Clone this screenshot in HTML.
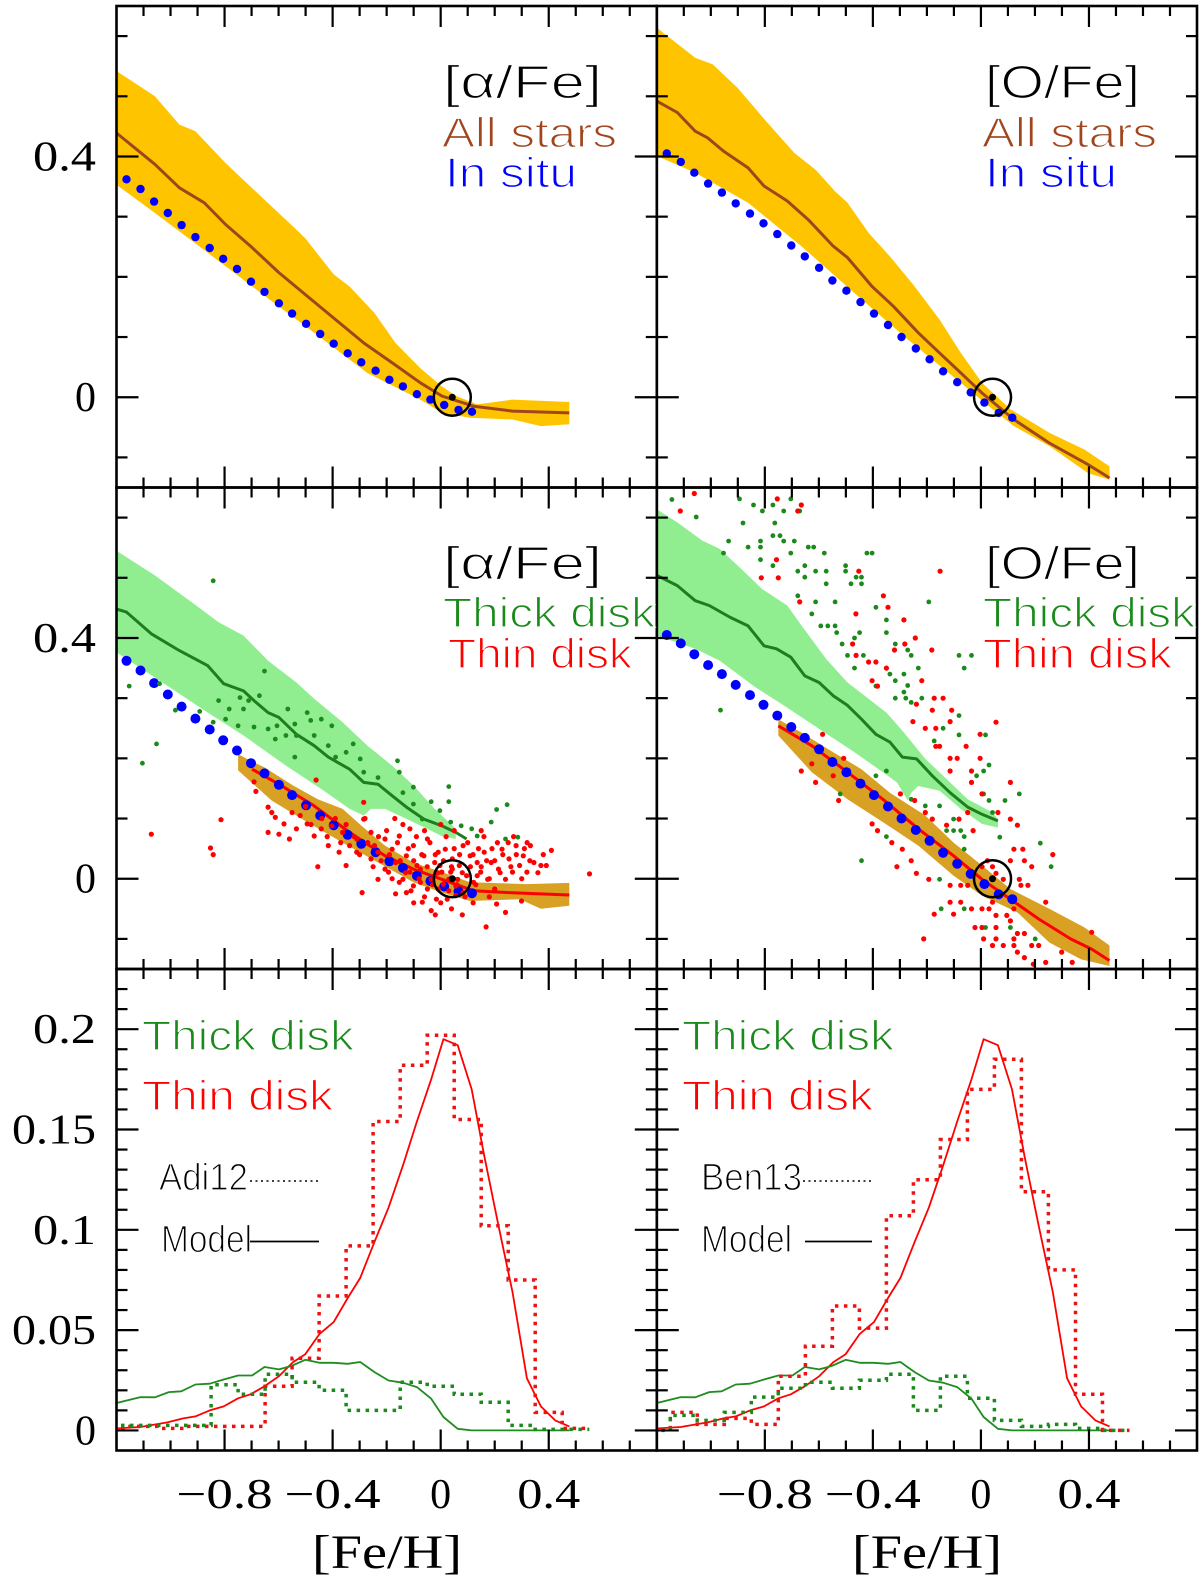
<!DOCTYPE html>
<html><head><meta charset="utf-8"><style>
html,body{margin:0;padding:0;background:#fff;}
svg{display:block;}
#labels > text:not([font-family]){stroke:#fff;stroke-width:1.3px;}
</style></head><body>
<svg id="fig" xmlns="http://www.w3.org/2000/svg" width="1200" height="1582" viewBox="0 0 1200 1582">
<defs>
<clipPath id="c00"><rect x="116.5" y="6" width="540.3" height="481.5"/></clipPath>
<clipPath id="c01"><rect x="656.8" y="6" width="540.2" height="481.5"/></clipPath>
<clipPath id="c10"><rect x="116.5" y="487.5" width="540.3" height="481.5"/></clipPath>
<clipPath id="c11"><rect x="656.8" y="487.5" width="540.2" height="481.5"/></clipPath>
<clipPath id="c20"><rect x="116.5" y="969" width="540.3" height="481.5"/></clipPath>
<clipPath id="c21"><rect x="656.8" y="969" width="540.2" height="481.5"/></clipPath>
</defs>
<g id="marks"></g>
<g id="axes"></g>
<g id="labels" font-family="'Liberation Sans', sans-serif">
<text x="443" y="98" font-size="46" textLength="159" lengthAdjust="spacingAndGlyphs" fill="#000">[α/Fe]</text>
<text x="442" y="147" font-size="42" textLength="175" lengthAdjust="spacingAndGlyphs" fill="#a0461e">All stars</text>
<text x="445" y="187" font-size="42" textLength="132" lengthAdjust="spacingAndGlyphs" fill="#0000ff">In situ</text>
<text x="985" y="98" font-size="46" textLength="155" lengthAdjust="spacingAndGlyphs" fill="#000">[O/Fe]</text>
<text x="982" y="147" font-size="42" textLength="175" lengthAdjust="spacingAndGlyphs" fill="#a0461e">All stars</text>
<text x="985" y="187" font-size="42" textLength="132" lengthAdjust="spacingAndGlyphs" fill="#0000ff">In situ</text>
<text x="443" y="579" font-size="46" textLength="159" lengthAdjust="spacingAndGlyphs" fill="#000">[α/Fe]</text>
<text x="443" y="627" font-size="42" textLength="212" lengthAdjust="spacingAndGlyphs" fill="#1a8a1a">Thick disk</text>
<text x="448" y="668" font-size="42" textLength="184" lengthAdjust="spacingAndGlyphs" fill="#ff0000">Thin disk</text>
<text x="985" y="579" font-size="46" textLength="155" lengthAdjust="spacingAndGlyphs" fill="#000">[O/Fe]</text>
<text x="983" y="627" font-size="42" textLength="212" lengthAdjust="spacingAndGlyphs" fill="#1a8a1a">Thick disk</text>
<text x="983" y="668" font-size="42" textLength="189" lengthAdjust="spacingAndGlyphs" fill="#ff0000">Thin disk</text>
<text x="142" y="1050" font-size="42" textLength="212" lengthAdjust="spacingAndGlyphs" fill="#1a8a1a">Thick disk</text>
<text x="142" y="1110" font-size="42" textLength="191" lengthAdjust="spacingAndGlyphs" fill="#ff0000">Thin disk</text>
<text x="159" y="1190" font-size="38" textLength="89" lengthAdjust="spacingAndGlyphs" fill="#000">Adi12</text>
<line x1="250" y1="1181" x2="319" y2="1181" stroke="#000" stroke-width="1.6" stroke-dasharray="2 3.5"/>
<text x="161" y="1252" font-size="38" textLength="91" lengthAdjust="spacingAndGlyphs" fill="#000">Model</text>
<line x1="250" y1="1241.5" x2="319" y2="1241.5" stroke="#000" stroke-width="1.8"/>
<text x="682" y="1050" font-size="42" textLength="212" lengthAdjust="spacingAndGlyphs" fill="#1a8a1a">Thick disk</text>
<text x="682" y="1110" font-size="42" textLength="191" lengthAdjust="spacingAndGlyphs" fill="#ff0000">Thin disk</text>
<text x="701" y="1190" font-size="38" textLength="101" lengthAdjust="spacingAndGlyphs" fill="#000">Ben13</text>
<line x1="803" y1="1181" x2="872" y2="1181" stroke="#000" stroke-width="1.6" stroke-dasharray="2 3.5"/>
<text x="701" y="1252" font-size="38" textLength="91" lengthAdjust="spacingAndGlyphs" fill="#000">Model</text>
<line x1="805" y1="1241.5" x2="872" y2="1241.5" stroke="#000" stroke-width="1.8"/>
<text x="387" y="1568" font-size="48" text-anchor="middle" font-family="'Liberation Serif', serif" textLength="150" lengthAdjust="spacingAndGlyphs">[Fe/H]</text>
<text x="927" y="1568" font-size="48" text-anchor="middle" font-family="'Liberation Serif', serif" textLength="150" lengthAdjust="spacingAndGlyphs">[Fe/H]</text>
</g>
</svg>
<script>
// ---------- data: row 1 ([alpha/Fe], [O/Fe]; all stars vs in situ) ----------
const alphaBandUpX=[-1.2,-1.058,-0.967,-0.908,-0.796,-0.652,-0.540,-0.501,-0.396,-0.337,-0.245,-0.167,-0.075,0.004,0.057,0.135,0.266,0.476];
const alphaBandUpY=[0.542,0.500,0.453,0.442,0.389,0.328,0.281,0.264,0.204,0.184,0.140,0.090,0.048,0.018,0.002,-0.012,-0.004,-0.008];
const alphaBandLoX=[-1.2,-1.058,-0.862,-0.665,-0.468,-0.271,-0.075,0.004,0.109,0.266,0.371,0.476];
const alphaBandLoY=[0.353,0.306,0.240,0.173,0.107,0.040,-0.004,-0.026,-0.034,-0.037,-0.048,-0.045];
const alphaMeanX=[-1.2,-1.058,-0.967,-0.875,-0.796,-0.704,-0.599,-0.494,-0.389,-0.284,-0.179,-0.075,0.004,0.122,0.266,0.476];
const alphaMeanY=[0.439,0.387,0.348,0.323,0.287,0.251,0.207,0.168,0.129,0.090,0.057,0.024,0.002,-0.015,-0.023,-0.026];
const inSituX=[-1.163,-1.111,-1.061,-1.010,-0.959,-0.908,-0.855,-0.805,-0.754,-0.702,-0.652,-0.599,-0.550,-0.498,-0.446,-0.396,-0.344,-0.294,-0.241,-0.190,-0.140,-0.088,-0.038,0.013,0.066,0.116];
const inSituAlphaY=[0.362,0.346,0.325,0.306,0.286,0.266,0.248,0.230,0.213,0.192,0.175,0.156,0.139,0.122,0.105,0.089,0.073,0.058,0.044,0.029,0.018,0.005,-0.004,-0.013,-0.021,-0.024];
const oBandUpX=[-1.2,-1.058,-0.993,-0.901,-0.796,-0.691,-0.612,-0.540,-0.494,-0.416,-0.337,-0.245,-0.153,-0.075,0.004,0.109,0.253,0.384,0.476];
const oBandUpY=[0.614,0.564,0.553,0.514,0.459,0.406,0.378,0.342,0.323,0.273,0.234,0.184,0.129,0.074,0.024,-0.020,-0.059,-0.087,-0.115];
const oBandLoX=[-1.2,-1.058,-0.862,-0.665,-0.468,-0.271,-0.075,0.030,0.122,0.253,0.397,0.476];
const oBandLoY=[0.401,0.373,0.323,0.251,0.173,0.096,0.024,-0.015,-0.048,-0.081,-0.126,-0.137];
const oMeanX=[-1.2,-1.124,-1.058,-1.012,-0.953,-0.862,-0.803,-0.717,-0.639,-0.547,-0.494,-0.403,-0.324,-0.232,-0.140,-0.088,0.004,0.122,0.253,0.397,0.476];
const oMeanY=[0.492,0.473,0.442,0.431,0.409,0.381,0.351,0.326,0.295,0.251,0.232,0.184,0.151,0.107,0.068,0.046,0.007,-0.037,-0.076,-0.112,-0.134];
const inSituOY=[0.405,0.391,0.373,0.355,0.340,0.322,0.305,0.289,0.271,0.252,0.234,0.215,0.194,0.177,0.158,0.139,0.120,0.100,0.081,0.063,0.043,0.025,0.008,-0.009,-0.026,-0.034];
const sunX=[0.043];
const sunY=[0.0];

// ---------- data: row 2 (thick / thin disk) ----------
const thickAlphaUpX=[-1.2,-1.058,-0.914,-0.822,-0.730,-0.639,-0.534,-0.468,-0.363,-0.271,-0.180,-0.101,-0.022,0.056];
const thickAlphaUpY=[0.545,0.504,0.457,0.426,0.404,0.362,0.326,0.299,0.260,0.221,0.188,0.155,0.116,0.083];
const thickAlphaLoX=[-1.2,-1.124,-0.993,-0.862,-0.730,-0.573,-0.442,-0.337,-0.285,-0.258,-0.206,-0.101,0.004,0.056];
const thickAlphaLoY=[0.376,0.354,0.315,0.276,0.238,0.188,0.149,0.116,0.105,0.116,0.116,0.094,0.071,0.066];
const thickAlphaMeanX=[-1.2,-1.163,-1.071,-0.967,-0.862,-0.803,-0.730,-0.691,-0.639,-0.599,-0.534,-0.468,-0.416,-0.337,-0.285,-0.232,-0.180,-0.127,-0.062,0.004,0.056,0.096];
const thickAlphaMeanY=[0.448,0.443,0.407,0.379,0.354,0.324,0.312,0.296,0.276,0.268,0.240,0.221,0.202,0.182,0.160,0.157,0.138,0.119,0.099,0.088,0.077,0.066];
const thinAlphaUpX=[-0.750,-0.704,-0.652,-0.547,-0.455,-0.363,-0.285,-0.206,-0.101,0.004,0.109,0.319,0.476];
const thinAlphaUpY=[0.207,0.196,0.185,0.155,0.132,0.116,0.085,0.055,0.027,0.011,-0.006,-0.009,-0.007];
const thinAlphaLoX=[-0.750,-0.626,-0.494,-0.363,-0.232,-0.101,0.004,0.109,0.292,0.371,0.476];
const thinAlphaLoY=[0.180,0.130,0.094,0.060,0.027,-0.006,-0.023,-0.037,-0.034,-0.050,-0.045];
const thinAlphaMeanX=[-0.698,-0.599,-0.468,-0.337,-0.206,-0.101,0.004,0.122,0.253,0.476];
const thinAlphaMeanY=[0.182,0.157,0.121,0.077,0.038,0.016,-0.001,-0.020,-0.023,-0.027];
const thickAlphaStarX=[-0.842,-1.153,-1.052,-1.104,-0.982,-1.041,-0.892,-0.842,-0.822,-0.783,-0.796,-0.750,-0.743,-0.730,-0.711,-0.671,-0.652,-0.691,-0.639,-0.612,-0.606,-0.566,-0.573,-0.540,-0.534,-0.540,-0.494,-0.481,-0.468,-0.442,-0.403,-0.416,-0.389,-0.350,-0.324,-0.298,-0.285,-0.232,-0.160,-0.153,-0.140,-0.101,-0.101,-0.035,0.030,0.030,-0.003,0.037,0.076,0.115,0.135,0.187,0.207,0.246,0.240,0.286,-0.068];
const thickAlphaStarY=[0.495,0.320,0.224,0.192,0.280,0.324,0.278,0.260,0.296,0.282,0.265,0.254,0.301,0.282,0.296,0.304,0.345,0.252,0.249,0.232,0.254,0.282,0.238,0.257,0.238,0.202,0.276,0.263,0.238,0.265,0.254,0.221,0.202,0.210,0.224,0.199,0.177,0.168,0.196,0.177,0.143,0.152,0.124,0.128,0.153,0.128,0.113,0.094,0.088,0.083,0.071,0.094,0.115,0.123,0.066,0.069,0.099];
const thinAlphaStarX=[-0.461,-0.691,-0.684,-0.813,-1.071,-0.852,-0.842,-0.639,-0.625,-0.612,-0.580,-0.639,-0.599,-0.560,-0.534,-0.520,-0.494,-0.468,-0.442,-0.416,-0.403,-0.376,-0.350,-0.455,-0.291,-0.285,-0.285,-0.337,-0.311,-0.258,-0.232,-0.206,-0.180,-0.167,-0.153,-0.127,-0.114,-0.101,-0.088,-0.075,-0.062,-0.049,-0.035,-0.022,-0.009,0.004,0.017,0.024,0.030,0.043,0.056,0.069,0.083,0.096,0.109,0.122,0.135,0.148,0.161,0.174,0.187,0.200,0.214,0.227,0.240,0.253,0.266,0.279,0.292,0.306,0.319,0.332,0.345,0.371,0.391,0.410,0.551,0.168,0.240,0.207,0.299,-0.035,-0.068,-0.167,-0.127,-0.232,-0.258,-0.363,-0.311,-0.245,-0.206,-0.140,-0.075,-0.009,0.043,0.083,-0.114,-0.022,0.010,0.037,0.063,-0.049,-0.003,0.056,-0.016,0.135,-0.101,-0.193,-0.153,
-0.32,-0.30,-0.27,-0.25,-0.23,-0.22,-0.20,-0.19,-0.18,-0.16,-0.15,-0.14,-0.13,-0.12,-0.11,-0.10,-0.09,-0.08,-0.07,-0.06,-0.05,-0.04,-0.03,-0.02,-0.01,0.00,0.01,0.02,0.03,0.04,0.05,0.06,0.07,0.08,0.09,0.10,0.11,0.12,0.13,0.14,0.15,0.16,0.17,0.18,0.19,0.20,0.21,0.22,0.23,0.25,0.26,0.28,0.30,0.31,0.33,0.36,0.38,-0.44,-0.42,-0.39,-0.37,-0.35,-0.50,-0.48,-0.55,0.00,-0.06,0.04,-0.10,0.08,0.12,0.18,-0.02,0.27,0.32,-0.17,-0.28,0.05,0.15,0.20];
const thinAlphaStarY=[0.164,0.161,0.145,0.098,0.074,0.051,0.040,0.119,0.110,0.102,0.091,0.077,0.074,0.066,0.083,0.105,0.091,0.071,0.083,0.055,0.088,0.044,0.022,0.020,-0.023,0.127,0.099,0.055,0.066,0.077,0.044,0.066,0.049,0.027,0.071,0.038,0.011,0.055,0.022,-0.006,0.038,0.066,-0.001,0.027,-0.017,0.011,0.049,-0.034,-0.001,0.033,-0.012,0.022,-0.023,0.005,0.038,-0.006,0.027,0.011,0.044,-0.001,0.027,-0.017,0.016,0.049,-0.001,0.033,0.011,0.055,0.022,0.038,0.011,0.055,0.027,0.022,0.022,0.047,0.008,-0.080,-0.056,-0.042,-0.037,-0.053,-0.039,-0.025,-0.023,-0.001,0.033,0.077,0.044,0.055,0.016,-0.001,0.016,0.044,0.016,0.055,0.083,0.005,-0.009,0.011,-0.001,-0.017,0.022,-0.028,-0.034,0.005,-0.012,0.011,-0.006,
0.07,0.04,0.06,0.02,0.07,0.03,0.08,0.04,0.00,0.06,0.03,0.09,0.01,0.05,-0.02,0.03,0.07,0.00,0.04,-0.03,0.02,0.06,-0.01,0.04,0.01,-0.04,0.03,0.07,-0.02,0.02,0.05,-0.01,0.04,0.01,-0.03,0.06,0.02,0.04,-0.01,0.05,0.02,0.07,0.03,0.00,0.05,0.03,0.06,0.01,0.04,0.06,0.02,0.04,0.00,0.05,0.03,0.01,0.04,0.10,0.07,0.10,0.06,0.09,0.12,0.09,0.11,0.09,0.08,-0.05,-0.04,-0.06,-0.04,-0.03,-0.06,0.07,0.06,0.10,0.10,0.08,0.08,-0.02];

const thickOUpX=[-1.2,-1.124,-1.032,-0.967,-0.888,-0.809,-0.717,-0.665,-0.573,-0.494,-0.416,-0.350,-0.285,-0.206,-0.140,-0.049,0.043,0.063];
const thickOUpY=[0.614,0.592,0.562,0.548,0.515,0.481,0.454,0.421,0.365,0.326,0.299,0.276,0.243,0.199,0.171,0.132,0.110,0.099];
const thickOLoX=[-1.2,-1.058,-0.967,-0.835,-0.730,-0.599,-0.468,-0.363,-0.311,-0.271,-0.258,-0.232,-0.153,-0.075,0.004,0.063];
const thickOLoY=[0.404,0.382,0.362,0.318,0.288,0.249,0.210,0.177,0.160,0.130,0.143,0.154,0.146,0.116,0.091,0.085];
const thickOMeanX=[-1.2,-1.124,-1.058,-1.006,-0.927,-0.862,-0.803,-0.757,-0.704,-0.652,-0.599,-0.547,-0.494,-0.442,-0.389,-0.337,-0.291,-0.238,-0.180,-0.114,-0.049,0.004,0.063];
const thickOMeanY=[0.504,0.487,0.462,0.454,0.434,0.420,0.387,0.382,0.368,0.337,0.326,0.304,0.288,0.265,0.240,0.227,0.202,0.199,0.171,0.143,0.119,0.107,0.096];
const thinOUpX=[-0.750,-0.665,-0.547,-0.442,-0.337,-0.206,-0.101,0.004,0.109,0.253,0.384,0.476];
const thinOUpY=[0.265,0.243,0.210,0.182,0.143,0.105,0.060,0.022,-0.017,-0.050,-0.081,-0.111];
const thinOLoX=[-0.750,-0.626,-0.494,-0.363,-0.232,-0.101,0.004,0.135,0.253,0.371,0.476];
const thinOLoY=[0.238,0.177,0.132,0.094,0.055,0.005,-0.028,-0.056,-0.106,-0.134,-0.145];
const thinOMeanX=[-0.750,-0.626,-0.494,-0.363,-0.232,-0.101,0.004,0.109,0.214,0.332,0.410,0.476];
const thinOMeanY=[0.254,0.221,0.177,0.132,0.083,0.038,-0.001,-0.034,-0.067,-0.100,-0.117,-0.136];
const thickOStarX=[-1.144,-1.054,-0.894,-0.842,-0.809,-0.770,-0.730,-0.704,-0.671,-0.763,-0.881,-0.934,-0.953,-0.862,-0.816,-0.816,-0.816,-0.770,-0.744,-0.730,-0.691,-0.704,-0.639,-0.619,-0.580,-0.770,-0.678,-0.652,-0.612,-0.573,-0.501,-0.501,-0.462,-0.442,-0.652,-0.573,-0.481,-0.442,-0.422,-0.403,-0.678,-0.612,-0.540,-0.626,-0.593,-0.567,-0.540,-0.534,-0.514,-0.468,-0.449,-0.350,-0.350,-0.285,-0.317,-0.271,-0.258,-0.193,-0.081,-0.035,-0.062,-0.389,-0.494,-0.468,-0.435,-0.337,-0.317,-0.285,-0.271,-0.285,-0.317,-0.278,-0.258,-0.219,-0.389,-0.232,-0.964,-0.081,-0.140,-0.173,-0.081,0.017,0.030,0.010,-0.016,-0.035,0.010,0.030,0.089,0.142,0.043,0.070,0.220,0.260,-0.442,-0.521,-0.350,-0.350,-0.127,-0.101,-0.075,-0.062,-0.062,-0.153,-0.147,-0.062,0.017,0.109,0.201,-0.101,-0.153,-0.389,-0.258,-0.206];
const thickOStarY=[0.630,0.601,0.631,0.621,0.611,0.621,0.611,0.631,0.611,0.591,0.591,0.561,0.541,0.551,0.561,0.551,0.530,0.570,0.570,0.561,0.561,0.541,0.551,0.551,0.541,0.520,0.511,0.520,0.511,0.511,0.520,0.511,0.501,0.501,0.501,0.490,0.490,0.490,0.541,0.541,0.470,0.460,0.460,0.440,0.420,0.420,0.420,0.409,0.390,0.400,0.409,0.430,0.409,0.430,0.390,0.380,0.371,0.460,0.371,0.371,0.350,0.451,0.371,0.350,0.371,0.340,0.329,0.340,0.321,0.310,0.300,0.300,0.293,0.300,0.320,0.350,0.280,0.271,0.250,0.229,0.239,0.239,0.189,0.179,0.171,0.160,0.141,0.130,0.130,0.141,0.110,0.069,0.059,0.020,0.030,0.141,0.070,0.179,0.080,0.080,0.080,0.070,0.049,-0.001,-0.050,-0.050,-0.081,-0.081,-0.100,0.099,0.121,0.171,0.132,0.121];
const thinOStarX=[-1.061,-1.113,-0.678,-0.665,-0.754,-0.757,-0.813,-0.750,-0.452,-0.151,-0.671,-0.463,-0.361,-0.344,-0.285,-0.243,-0.282,-0.320,-0.182,-0.475,-0.462,-0.416,-0.389,-0.350,-0.403,-0.383,-0.219,-0.173,-0.140,-0.239,-0.180,-0.108,-0.252,-0.206,-0.167,-0.114,0.056,-0.003,-0.167,-0.153,-0.055,-0.114,-0.088,-0.003,-0.035,-0.114,-0.035,0.109,0.004,-0.049,-0.081,0.063,0.109,0.135,-0.298,-0.245,-0.206,-0.180,-0.127,-0.029,-0.527,-0.665,-0.626,-0.612,-0.586,-0.508,-0.547,-0.403,-0.383,-0.330,-0.291,-0.258,-0.311,-0.239,-0.193,-0.114,-0.075,-0.049,0.004,0.024,0.043,0.056,0.083,0.122,0.155,0.109,0.161,0.188,0.142,0.148,0.174,0.266,-0.114,-0.075,-0.035,0.004,0.030,0.043,-0.022,0.004,0.056,0.096,0.122,0.135,0.161,0.056,0.083,0.122,0.043,0.122,0.135,0.188,0.214,0.240,0.161,0.194,0.299,0.338,-0.173,-0.101,-0.212,0.010,0.056,0.109,0.240,0.410];
const thinOStarY=[0.640,0.611,0.611,0.621,0.631,0.530,0.500,0.500,0.511,0.511,0.460,0.440,0.470,0.451,0.430,0.400,0.390,0.380,0.380,0.390,0.371,0.360,0.360,0.350,0.329,0.320,0.329,0.300,0.300,0.290,0.280,0.280,0.261,0.250,0.250,0.261,0.260,0.240,0.220,0.220,0.220,0.200,0.200,0.200,0.179,0.179,0.160,0.160,0.141,0.110,0.099,0.110,0.099,0.089,0.141,0.130,0.110,0.099,0.089,0.080,0.130,0.179,0.191,0.160,0.240,0.200,0.171,0.091,0.080,0.060,0.049,0.030,0.020,0.009,-0.001,-0.011,-0.011,-0.011,0.020,0.030,0.020,0.009,-0.001,0.049,0.049,0.030,0.030,0.020,-0.001,-0.011,-0.011,0.040,-0.039,-0.039,-0.050,-0.050,-0.050,-0.039,-0.081,-0.081,-0.081,-0.061,-0.050,-0.091,-0.091,-0.100,-0.111,-0.100,-0.111,-0.111,-0.122,-0.111,-0.111,-0.139,-0.131,-0.142,-0.122,-0.139,-0.059,-0.059,-0.100,-0.100,-0.061,-0.070,-0.039,-0.089];

// ---------- data: row 3 (metallicity distributions) ----------
const modelFeH=[-1.196,-1.111,-1.012,-0.953,-0.908,-0.855,-0.803,-0.750,-0.704,-0.652,-0.599,-0.547,-0.501,-0.449,-0.396,-0.344,-0.298,-0.245,-0.193,-0.140,-0.088,-0.035,0.010,0.063,0.115,0.161,0.214,0.266,0.319,0.371,0.424,0.476];
const modelThin=[0.001,0.0017,0.004,0.006,0.007,0.010,0.012,0.016,0.018,0.022,0.027,0.034,0.038,0.048,0.054,0.066,0.076,0.094,0.111,0.132,0.154,0.175,0.195,0.192,0.170,0.137,0.102,0.069,0.026,0.012,0.005,0.002];
const modelThickX=[-1.196,-1.111,-1.058,-1.006,-0.960,-0.908,-0.855,-0.803,-0.750,-0.698,-0.652,-0.599,-0.553,-0.501,-0.449,-0.396,-0.344,-0.298,-0.245,-0.193,-0.140,-0.088,-0.035,0.010,0.063,0.115,0.476];
const modelThick=[0.0138,0.0166,0.0165,0.0191,0.0195,0.0229,0.0233,0.0254,0.0274,0.0274,0.0316,0.0304,0.0321,0.0352,0.0337,0.0337,0.0332,0.0341,0.0291,0.0249,0.0238,0.0216,0.0158,0.0067,0.0008,0.0,0.0];
const histEdges=[-1.25,-1.15,-1.05,-0.95,-0.85,-0.75,-0.65,-0.55,-0.45,-0.35,-0.25,-0.15,-0.05,0.05,0.15,0.25,0.35,0.45,0.55];
const adiThin=[0.001,0.002,0.001,0.002,0.002,0.002,0.022,0.036,0.067,0.092,0.154,0.182,0.197,0.155,0.102,0.075,0.009,0.001];
const adiThick=[0.0025,0.0025,0.0025,0.0025,0.0228,0.018,0.028,0.024,0.020,0.010,0.010,0.024,0.022,0.018,0.014,0.0025,0.0005,0.0005];
const benThin=[0.0005,0.009,0.003,0.006,0.003,0.027,0.042,0.062,0.051,0.107,0.125,0.145,0.170,0.185,0.119,0.080,0.018,0.0];
const benThick=[0.0,0.0075,0.005,0.009,0.0166,0.021,0.024,0.021,0.025,0.028,0.010,0.027,0.016,0.005,0.002,0.003,0.001,0.0];

// ---------- axis tick values ----------
const xTickMajor=[-0.8,-0.4,0,0.4];
const xTickLabels=["\u22120.8","\u22120.4","0","0.4"];
const yTickTopMajor=[0,0.4];
const yTickTopLabels=["0","0.4"];
const yTickHistMajor=[0,0.05,0.1,0.15,0.2];
const yTickHistLabels=["0","0.05","0.1","0.15","0.2"];

// ---------- layout ----------
const NS="http://www.w3.org/2000/svg";
const colL=[116.5,656.8], colR=[656.8,1197];
const rowsY=[[6,487.5],[487.5,969],[969,1450.5]];
const xDom=[-1.2,0.8];
const yDomTop=[-0.15,0.65], yDomHist=[-0.01,0.23];
function xs(col){const c=col===0?colL:colR;return v=>c[0]+(v-xDom[0])/(xDom[1]-xDom[0])*(c[1]-c[0]);}
function ys(row){const r=rowsY[row];const d=row===2?yDomHist:yDomTop;return v=>r[1]-(v-d[0])/(d[1]-d[0])*(r[1]-r[0]);}
function mk(tag,attrs,parent){const e=document.createElementNS(NS,tag);for(const k in attrs)e.setAttribute(k,attrs[k]);parent.appendChild(e);return e;}
const marks=document.getElementById('marks');
const axes=document.getElementById('axes');
function panelGroup(row,col,name){const g=mk('g',{'clip-path':'url(#c'+row+col+')'},marks);


return g;}
function band(g,X,Y,ux,uy,lx,ly,fill,name){
 let pts=[];for(let i=0;i<ux.length;i++)pts.push(X(ux[i]).toFixed(1)+','+Y(uy[i]).toFixed(1));
 for(let i=lx.length-1;i>=0;i--)pts.push(X(lx[i]).toFixed(1)+','+Y(ly[i]).toFixed(1));
 const p=mk('polygon',{points:pts.join(' '),fill:fill,stroke:'none'},g);
 
 }
function line(g,X,Y,xv,yv,color,w,name,dash){
 const pts=xv.map((v,i)=>X(v).toFixed(1)+','+Y(yv[i]).toFixed(1)).join(' ');
 const a={points:pts,fill:'none',stroke:color,'stroke-width':w,'stroke-linejoin':'round'};if(dash)a['stroke-dasharray']=dash;
 const p=mk('polyline',a,g);
 
 }
function dots(g,X,Y,xv,yv,color,r,name){
 const gg=mk('g',{fill:color},g);
 
 
 for(let i=0;i<xv.length;i++){const c=mk('circle',{cx:X(xv[i]).toFixed(1),cy:Y(yv[i]).toFixed(1),r:r},gg);
 
 }}
function sun(g,X,Y){
 const c=mk('circle',{cx:X(sunX[0]),cy:Y(sunY[0]),r:18.5,fill:'none',stroke:'#000','stroke-width':2.5},g);
 
 
 const d=mk('circle',{cx:X(sunX[0]),cy:Y(sunY[0]),r:3.5,fill:'#000'},g);
 
 }
function hist(g,X,Y,vals,color,name){
 let d='M'+X(histEdges[0]).toFixed(1)+','+Y(vals[0]).toFixed(1);
 for(let i=0;i<vals.length;i++){d+=' L'+X(histEdges[i+1]).toFixed(1)+','+Y(vals[i]).toFixed(1);if(i+1<vals.length)d+=' L'+X(histEdges[i+1]).toFixed(1)+','+Y(vals[i+1]).toFixed(1);}
 const p=mk('path',{d:d,fill:'none',stroke:color,'stroke-width':3.5,'stroke-dasharray':'3.5 5.5'},g);
 
 }

const ORANGE='#ffc400', BROWN='#a0461e', BLUE='#0000ff', LGREEN='#90ee90', DGREEN='#1e7d1e', GOLD='#d8a123', RED='#ff0000', SGREEN='#1a8a1a';

// Row 1 left
{const X=xs(0),Y=ys(0);const g=panelGroup(0,0,'panel-alpha-all-stars');
band(g,X,Y,alphaBandUpX,alphaBandUpY,alphaBandLoX,alphaBandLoY,ORANGE,'all-stars-band');
line(g,X,Y,alphaMeanX,alphaMeanY,BROWN,3,'all-stars-mean-line');
dots(g,X,Y,inSituX,inSituAlphaY,BLUE,4.2,'in-situ-dots');sun(g,X,Y);}
// Row 1 right
{const X=xs(1),Y=ys(0);const g=panelGroup(0,1,'panel-o-all-stars');
band(g,X,Y,oBandUpX,oBandUpY,oBandLoX,oBandLoY,ORANGE,'all-stars-band-o');
line(g,X,Y,oMeanX,oMeanY,BROWN,3,'all-stars-mean-line-o');
dots(g,X,Y,inSituX,inSituOY,BLUE,4.2,'in-situ-dots-o');sun(g,X,Y);}
// Row 2 left
{const X=xs(0),Y=ys(1);const g=panelGroup(1,0,'panel-alpha-disks');
band(g,X,Y,thickAlphaUpX,thickAlphaUpY,thickAlphaLoX,thickAlphaLoY,LGREEN,'thick-disk-band');
band(g,X,Y,thinAlphaUpX,thinAlphaUpY,thinAlphaLoX,thinAlphaLoY,GOLD,'thin-disk-band');
line(g,X,Y,thickAlphaMeanX,thickAlphaMeanY,DGREEN,3,'thick-disk-mean-line');
line(g,X,Y,thinAlphaMeanX,thinAlphaMeanY,RED,3,'thin-disk-mean-line');
dots(g,X,Y,inSituX,inSituAlphaY,BLUE,5,'in-situ-dots-disks');
dots(g,X,Y,thickAlphaStarX,thickAlphaStarY,SGREEN,2.4,'thick-disk-stars');
dots(g,X,Y,thinAlphaStarX,thinAlphaStarY,RED,2.6,'thin-disk-stars');sun(g,X,Y);}
// Row 2 right
{const X=xs(1),Y=ys(1);const g=panelGroup(1,1,'panel-o-disks');
band(g,X,Y,thickOUpX,thickOUpY,thickOLoX,thickOLoY,LGREEN,'thick-disk-band-o');
band(g,X,Y,thinOUpX,thinOUpY,thinOLoX,thinOLoY,GOLD,'thin-disk-band-o');
line(g,X,Y,thickOMeanX,thickOMeanY,DGREEN,3,'thick-disk-mean-line-o');
dots(g,X,Y,thickOStarX,thickOStarY,SGREEN,2.4,'thick-disk-stars-o');
dots(g,X,Y,thinOStarX,thinOStarY,RED,2.6,'thin-disk-stars-o');
line(g,X,Y,thinOMeanX,thinOMeanY,RED,3,'thin-disk-mean-line-o');
dots(g,X,Y,inSituX,inSituOY,BLUE,5,'in-situ-dots-disks-o');sun(g,X,Y);}
// Row 3
[[0,adiThin,adiThick,'adi12'],[1,benThin,benThick,'ben13']].forEach(([col,oT,oK,nm])=>{
 const X=xs(col),Y=ys(2);const g=panelGroup(2,col,'panel-mdf-'+nm);
 line(g,X,Y,modelFeH,modelThin,RED,1.8,'model-thin-disk-mdf-'+nm);
 line(g,X,Y,modelThickX,modelThick,'#1e8c1e',1.8,'model-thick-disk-mdf-'+nm);
 hist(g,X,Y,oT,'#ee1111','observed-thin-disk-hist-'+nm);
 hist(g,X,Y,oK,'#1a8a1a','observed-thick-disk-hist-'+nm);
});

// ---------- axes ----------
function tick(x1,y1,x2,y2,name){const l=mk('line',{x1:x1,y1:y1,x2:x2,y2:y2,stroke:'#000','stroke-width':2.2},axes);
 
 }
function isMult(v,s){return Math.abs(v/s-Math.round(v/s))<1e-6;}
for(let row=0;row<3;row++){for(let col=0;col<2;col++){
 const c=col===0?colL:colR, r=rowsY[row], X=xs(col), Y=ys(row);
 const fr=mk('rect',{x:c[0],y:r[0],width:c[1]-c[0],height:r[1]-r[0],fill:'none',stroke:'#000','stroke-width':2.6},axes);
 
 
 for(let k=-11;k<=7;k++){const v=k/10;const px=X(v);const L=isMult(v,0.4)?21:10;
  tick(px,r[1],px,r[1]-L,'x-tick');tick(px,r[0],px,r[0]+L,'x-tick');}
 if(row<2){for(let k=-1;k<=6;k++){const v=k/10;const py=Y(v);const L=isMult(v,0.4)?22:11;
  tick(c[0],py,c[0]+L,py,'y-tick');tick(c[1],py,c[1]-L,py,'y-tick');}}
 else{for(let k=0;k<=23;k++){const v=k/100;const py=Y(v);const L=isMult(v,0.05)?22:11;
  tick(c[0],py,c[0]+L,py,'y-tick');tick(c[1],py,c[1]-L,py,'y-tick');}}
}}
// tick labels
const lab=document.getElementById('labels');
function tlabel(x,y,s,anchor,name){const t=mk('text',{x:x,y:y,'font-size':42,'font-family':"'Liberation Serif', serif",'text-anchor':anchor,textLength:(s.length*21+(s[0]==='\u2212'?12:0)),lengthAdjust:'spacingAndGlyphs'},lab);
 t.textContent=s;
 
 }
for(let row=0;row<2;row++){const Y=ys(row);yTickTopMajor.forEach((v,i)=>tlabel(96,Y(v)+14,yTickTopLabels[i],'end','y-tick-label'));}
{const Y=ys(2);yTickHistMajor.forEach((v,i)=>tlabel(96,Y(v)+14,yTickHistLabels[i],'end','y-tick-label'));}
for(let col=0;col<2;col++){const X=xs(col);xTickMajor.forEach((v,i)=>tlabel(X(v),1508,xTickLabels[i],'middle','x-tick-label'));}
</script>
</body></html>
